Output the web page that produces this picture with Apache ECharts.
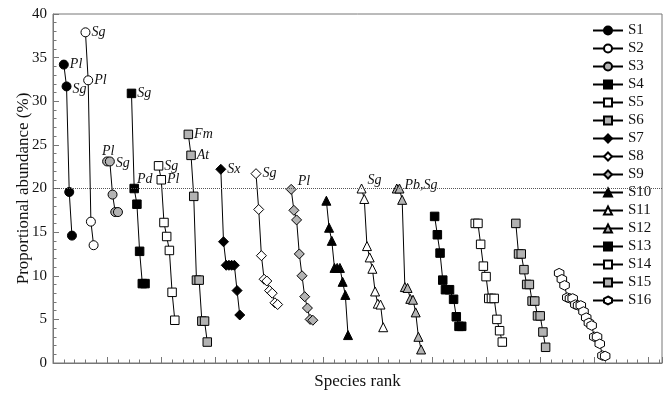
<!DOCTYPE html>
<html>
<head>
<meta charset="utf-8">
<script src="https://cdn.jsdelivr.net/npm/echarts@6/dist/echarts.min.js"></script>
<style>
  html, body { margin: 0; padding: 0; background: #fff; }
  #chart { width: 667px; height: 395px; }
</style>
</head>
<body>
<div id="chart"></div>
<script>
// [species rank, proportional abundance %] per site
const s1 = [[4, 34.2], [5, 31.7], [6, 19.6], [7, 14.6]]
const s2 = [[12, 37.9], [13, 32.4], [14, 16.2], [15, 13.5]]
const s3 = [[20, 23.1], [21, 23.1], [22, 19.3], [23, 17.3], [24, 17.3]]
const s4 = [[29, 30.9], [30, 20.0], [31, 18.2], [32, 12.8], [33, 9.1], [34, 9.1]]
const s5 = [[39, 22.6], [40, 21.0], [41, 16.1], [42, 14.5], [43, 12.9], [44, 8.1], [45, 4.9]]
const s6 = [[50, 26.2], [51, 23.8], [52, 19.1], [53, 9.5], [54, 9.5], [55, 4.8], [56, 4.8], [57, 2.4]]
const s7 = [[62, 22.2], [63, 13.9], [64, 11.2], [65, 11.2], [66, 11.2], [67, 11.2], [68, 8.3], [69, 5.5]]
const s8 = [[75, 21.7], [76, 17.6], [77, 12.3], [78, 9.6], [79, 9.4], [80, 8.3], [81, 8.0], [82, 6.9], [83, 6.7]]
const s9 = [[88, 19.9], [89, 17.5], [90, 16.4], [91, 12.5], [92, 10.0], [93, 7.6], [94, 6.3], [95, 5.0], [96, 4.9]]
const s10 = [[101, 18.6], [102, 15.5], [103, 14.0], [104, 10.9], [105, 10.9], [106, 10.9], [107, 9.3], [108, 7.8], [109, 3.2]]
const s11 = [[114, 20.0], [115, 18.8], [116, 13.4], [117, 12.1], [118, 10.8], [119, 8.2], [120, 6.8], [121, 6.7], [122, 4.1]]
const s12 = [[127, 20.0], [128, 20.0], [129, 18.7], [130, 8.7], [131, 8.6], [132, 7.35], [133, 7.25], [134, 5.8], [135, 3.0], [136, 1.55]]
const s13 = [[141, 16.8], [142, 14.7], [143, 12.6], [144, 9.5], [145, 8.4], [146.5, 8.4], [148, 7.3], [149, 5.3], [150, 4.2], [151, 4.2]]
const s14 = [[156, 16.0], [157, 16.0], [158, 13.6], [159, 11.1], [160, 9.9], [161, 7.4], [162, 7.4], [163, 7.4], [164, 5.0], [165, 3.7], [166, 2.4]]
const s15 = [[171, 16.0], [172, 12.5], [173, 12.5], [174, 10.7], [175, 9.0], [176, 9.0], [177, 7.1], [178, 7.1], [179, 5.4], [180, 5.4], [181, 3.55], [182, 1.8]]
const s16 = [[187, 10.3], [188, 9.6], [189, 8.9], [190, 7.5], [191, 7.4], [192, 7.4], [193, 6.7], [194, 6.6], [195, 6.6], [196, 5.9], [197, 5.2], [198, 4.6], [199, 4.3], [200, 3.0], [201, 3.0], [202, 2.2], [203, 0.85], [204, 0.8]]

// dominant species tags on the first points of each site
const s1Tags = ['Pl', 'Sg']
const s2Tags = ['Sg', 'Pl']
const s3Tags = ['Pl', 'Sg']
const s4Tags = ['Sg', 'Pd']
const s5Tags = ['Sg', 'Pl']
const s6Tags = ['Fm', 'At']
const s7Tags = ['Sx']
const s8Tags = ['Sg']
const s9Tags = ['Pl']
const s11Tags = ['Sg']
const s12Tags = ['', 'Pb,Sg']

const THRESHOLD = 20

const BLACK = '#000'
const WHITE = '#fff'
const GRAY = '#b3b3b3'
const HEX = 'path://M0,-10L8.66,-5L8.66,5L0,10L-8.66,5L-8.66,-5Z'
const SERIF = '"Liberation Serif", "DejaVu Serif", serif'

// label placement tweaks (style only)
const TAG_OFFSET = {
  S1: [[0, 0], [0, 3]],
  S3: [['top', [1, 2]], [0, 2]],
  S4: [[0, 0], [-3, -9]],
  S9: [[0, -8]],
  S11: [[0, -8]],
  S12: [[0, 0], [-1, -3]],
}

const SITES = [
  ['S1', s1, 'circle', BLACK, s1Tags, 9],
  ['S2', s2, 'circle', WHITE, s2Tags, 9],
  ['S3', s3, 'circle', GRAY, s3Tags, 9],
  ['S4', s4, 'rect', BLACK, s4Tags, 8.5],
  ['S5', s5, 'rect', WHITE, s5Tags, 8.5],
  ['S6', s6, 'rect', GRAY, s6Tags, 8.5],
  ['S7', s7, 'diamond', BLACK, s7Tags, 10],
  ['S8', s8, 'diamond', WHITE, s8Tags, 10],
  ['S9', s9, 'diamond', GRAY, s9Tags, 10],
  ['S10', s10, 'triangle', BLACK, [], 9],
  ['S11', s11, 'triangle', WHITE, s11Tags, 9],
  ['S12', s12, 'triangle', GRAY, s12Tags, 9],
  ['S13', s13, 'rect', BLACK, [], 8.5],
  ['S14', s14, 'rect', WHITE, [], 8.5],
  ['S15', s15, 'rect', GRAY, [], 8.5],
  ['S16', s16, HEX, WHITE, [], 9.5],
]

const chart = echarts.init(document.getElementById('chart'), null, { renderer: 'canvas' })

const series = SITES.map(([name, pts, symbol, fill, tags, size], si) => {
  const offs = TAG_OFFSET[name] || []
  return {
    name,
    type: 'line',
    data: pts.map((p, i) => {
      if (!tags[i]) return p
      let pos = 'right'
      let off = offs[i] || [0, 0]
      if (typeof off[0] === 'string') { pos = off[0]; off = off[1] }
      return {
        value: p,
        label: {
          show: true,
          formatter: tags[i],
          position: pos,
          distance: pos === 'top' ? 0 : 1,
          offset: off,
          fontFamily: SERIF,
          fontStyle: 'italic',
          fontSize: 14,
          color: '#111',
        },
      }
    }),
    symbol,
    symbolSize: size,
    showAllSymbol: true,
    itemStyle: { color: fill, borderColor: '#000', borderWidth: 1 },
    lineStyle: { color: '#000', width: 1 },
    emphasis: { disabled: true },
    z: 3,
    markLine: si === 0 ? {
      silent: true,
      symbol: 'none',
      label: { show: false },
      lineStyle: { color: '#555', type: 'dotted', width: 1 },
      data: [{ yAxis: THRESHOLD }],
    } : undefined,
  }
})

chart.setOption({
  animation: false,
  backgroundColor: '#fff',
  grid: { left: 53, right: 5, top: 14, bottom: 28, show: true, borderColor: '#777', borderWidth: 1 },
  legend: {
    orient: 'vertical',
    left: 590,
    top: 23,
    backgroundColor: '#fff',
    padding: [0, 2],
    itemWidth: 30,
    itemHeight: 10,
    itemGap: 3,
    textStyle: { fontFamily: SERIF, fontSize: 15, lineHeight: 15, color: '#111' },
    data: SITES.map((s) => s[0]),
  },
  xAxis: {
    type: 'value',
    min: 0,
    max: 225,
    interval: 20,
    name: 'Species rank',
    nameLocation: 'middle',
    nameGap: 10,
    nameTextStyle: { fontFamily: SERIF, fontSize: 17, color: '#111', verticalAlign: 'top' },
    axisLine: { lineStyle: { color: '#777' } },
    axisTick: { inside: true, length: 6, lineStyle: { color: '#777' } },
    minorTick: { show: true, splitNumber: 5, length: 3.5, lineStyle: { color: '#777' } },
    axisLabel: { show: false },
    splitLine: { show: false },
  },
  yAxis: {
    type: 'value',
    min: 0,
    max: 40,
    interval: 5,
    name: 'Proportional abundance (%)',
    nameLocation: 'middle',
    nameGap: 21,
    nameMoveOverlap: false,
    nameTextStyle: { fontFamily: SERIF, fontSize: 17, color: '#111' },
    axisLine: { show: true, lineStyle: { color: '#777' } },
    axisTick: { inside: true, length: 6, lineStyle: { color: '#777' } },
    minorTick: { show: true, splitNumber: 5, length: 3.5, lineStyle: { color: '#777' } },
    axisLabel: { fontFamily: SERIF, fontSize: 15, color: '#111', margin: 6 },
    splitLine: { show: false },
  },
  series,
})
</script>
</body>
</html>
